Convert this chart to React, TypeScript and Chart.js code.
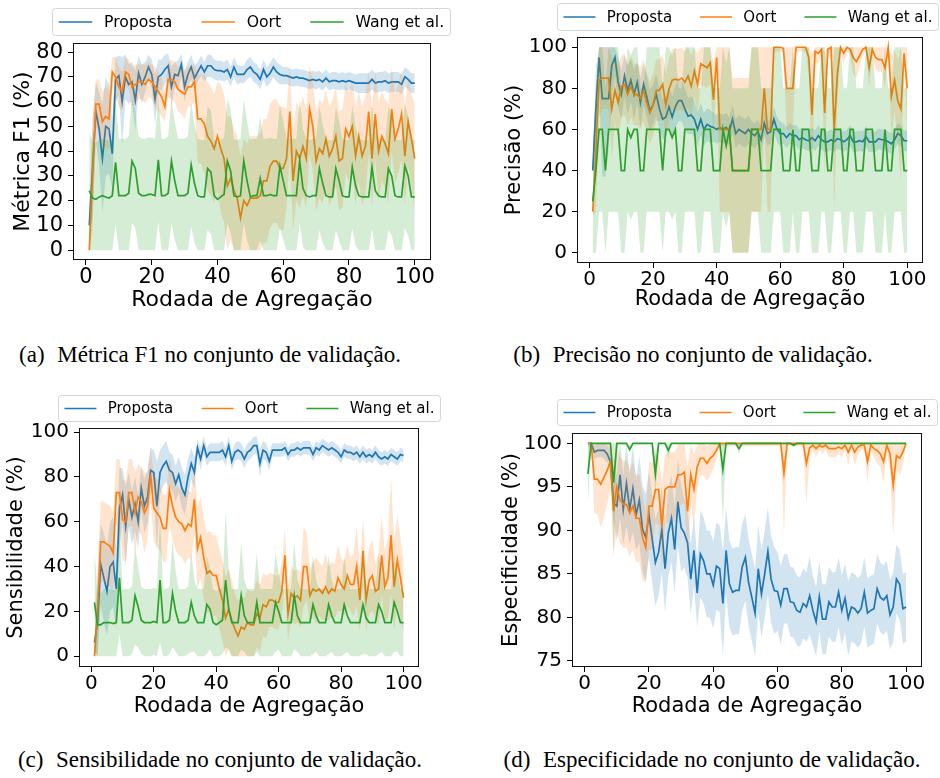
import React, { useEffect, useRef } from 'react';
import { Chart, registerables } from 'chart.js';

Chart.register(...registerables);

// ---------------- data ----------------
const rounds = [
  1, 2, 3, 4, 5, 6, 7, 8, 9, 10, 11, 12, 13, 14, 15, 16, 17, 18, 19, 20,
  21, 22, 23, 24, 25, 26, 27, 28, 29, 30, 31, 32, 33, 34, 35, 36, 37, 38, 39, 40,
  41, 42, 43, 44, 45, 46, 47, 48, 49, 50, 51, 52, 53, 54, 55, 56, 57, 58, 59, 60,
  61, 62, 63, 64, 65, 66, 67, 68, 69, 70, 71, 72, 73, 74, 75, 76, 77, 78, 79, 80,
  81, 82, 83, 84, 85, 86, 87, 88, 89, 90, 91, 92, 93, 94, 95, 96, 97, 98, 99, 100,
];
const methodNames = ['Proposta', 'Oort', 'Wang et al.'];
const methodColors = ['#1f77b4', '#ff7f0e', '#2ca02c'];
const xTickValues = [0, 20, 40, 60, 80, 100];
const f1TickValues = [0, 10, 20, 30, 40, 50, 60, 70, 80];
const pctTickValues = [0, 20, 40, 60, 80, 100];
const specTickValues = [75, 80, 85, 90, 95, 100];
const xAxisTitle = 'Rodada de Agregação';
const yAxisTitles = ['Métrica F1 (%)', 'Precisão (%)', 'Sensibilidade (%)', 'Especificidade (%)'];
const captionTags = ['(a)', '(b)', '(c)', '(d)'];
const captionTexts = [
  'Métrica F1 no conjunto de validação.',
  'Precisão no conjunto de validação.',
  'Sensibilidade no conjunto de validação.',
  'Especificidade no conjunto de validação.',
];

// (a) F1
const f1Proposta = [
  10, 33, 56, 49, 37, 50, 49, 39, 69, 70.5,
  60, 70, 67, 68, 60.5, 71.5, 67, 70, 74, 71,
  61, 70, 71, 73, 74.5, 66, 71, 70.5, 75, 66,
  71, 74, 69.5, 72, 74.5, 72, 74.5, 74.5, 73, 72.5,
  72.5, 72, 73, 70, 74, 71, 71, 71, 73, 74,
  72, 71, 69, 73, 70, 71.5, 74, 72, 71, 70.5,
  70.5, 70, 69.5, 70, 69.5, 69.5, 69, 68.5, 69, 68.5,
  69, 68, 69.5, 68, 68.5, 68.5, 68, 68.5, 68, 68.5,
  68, 67.5, 67.5, 67.5, 67.5, 67.5, 69, 67.5, 68, 68,
  68.5, 67.5, 68, 68, 68, 67, 70, 69, 67.5, 67.5,
];
const f1PropostaStd = [
  3, 20, 12, 15, 22, 20, 18, 14, 9, 8,
  18, 9, 8, 8, 12, 7, 8, 6, 5, 6,
  10, 7, 6, 6, 5, 8, 5, 6, 4.5, 6,
  5, 5, 5, 4, 4, 4, 4.5, 4.5, 4, 4,
  4, 4, 4, 4, 4, 4, 3.5, 3.5, 4, 4,
  4, 4, 4, 4, 4, 4, 4, 4, 4, 3.5,
  3.5, 3.5, 3.5, 3.5, 3.5, 3.5, 3.5, 3.5, 3.5, 3.5,
  3.5, 3.5, 3.5, 3.5, 3.5, 3.5, 3.5, 3.5, 3.5, 3.5,
  3.5, 3.5, 4, 4, 4, 4, 4, 4, 4, 4,
  4, 4, 4, 4, 4, 4, 4, 4, 4, 4,
];
const f1Oort = [
  0, 30, 59, 59, 52, 54, 53, 72, 70, 66,
  64, 72, 71, 66, 67, 68, 68, 67, 69, 68,
  66, 64, 62, 58, 69, 69, 68, 65, 64, 63,
  66, 66, 68, 53, 53, 51, 46, 44, 41, 46,
  41, 37, 26, 29, 24, 21, 13, 20, 18, 21,
  21, 21, 22, 28, 28, 34, 36, 36, 33, 33,
  37, 56, 28, 40, 37, 42, 37, 57, 50, 36,
  41, 39, 45, 38, 41, 46, 36, 37, 49, 46,
  50, 38, 46, 38, 42, 56, 37, 55, 40, 46,
  43, 39, 57, 45, 49, 55, 38, 52, 45, 37,
];
const f1OortStd = [
  2, 22, 10, 10, 12, 12, 12, 6, 8, 8,
  8, 6, 6, 8, 8, 7, 7, 8, 7, 7,
  8, 8, 8, 6, 7, 8, 8, 9, 9, 10,
  8, 8, 8, 18, 18, 20, 22, 22, 22, 22,
  26, 26, 28, 25, 25, 25, 25, 25, 25, 25,
  25, 25, 25, 25, 25, 25, 25, 25, 25, 25,
  20, 18, 20, 20, 20, 20, 20, 18, 18, 20,
  20, 20, 20, 20, 20, 20, 20, 20, 18, 18,
  18, 20, 18, 20, 20, 17, 20, 18, 20, 18,
  18, 20, 17, 18, 18, 18, 20, 18, 18, 22,
];
const f1Wang = [
  24, 21, 20.5, 21.5, 22, 21.5, 21, 22, 35.5, 22,
  22, 22, 23, 36, 33, 23, 22, 22, 22.5, 22.5,
  22, 36.5, 22, 22, 23, 36, 28, 22, 22, 22,
  23, 34.5, 27, 22, 21.5, 21.5, 33, 31.5, 22, 20.5,
  21.5, 22.5, 36, 32, 22, 21.5, 22, 36, 28, 21.5,
  22, 22, 29, 22, 22, 22.5, 22, 22, 34, 28,
  22, 22, 22, 22, 36, 25, 22, 21.5, 22, 22,
  33, 27, 22, 21.5, 21.5, 33, 28, 22, 21.5, 21.5,
  33.5, 26, 22, 21.5, 21.5, 21.5, 33.5, 24, 22, 21.5,
  21.5, 33, 30, 22, 21.5, 21.5, 34, 30, 21.5, 21.5,
];
const f1WangStd = [
  24, 23, 23, 23, 23, 23, 23, 23, 25, 23,
  23, 23, 23, 25, 24, 23, 23, 23, 23, 23,
  23, 25, 23, 23, 23, 25, 24, 23, 23, 23,
  23, 25, 24, 23, 23, 23, 25, 25, 23, 23,
  23, 23, 25, 25, 23, 23, 23, 25, 24, 23,
  23, 23, 25, 23, 23, 23, 23, 23, 25, 24,
  23, 23, 23, 23, 25, 24, 23, 23, 23, 23,
  25, 24, 23, 23, 23, 25, 24, 23, 23, 23,
  25, 24, 23, 23, 23, 23, 25, 24, 23, 23,
  23, 25, 24, 23, 23, 23, 25, 24, 23, 23,
];

// (b) Precisão
const pProposta = [
  40, 70, 95, 75, 75, 75, 91, 95, 83, 77,
  86, 79, 84, 77, 83, 73, 82, 76, 69, 72,
  77, 70, 65, 66, 71, 66, 71, 74, 74, 70,
  66.5, 67, 65, 60, 65, 60, 62.5, 61.5, 61, 60,
  61, 60, 61, 59, 65, 58, 60, 59, 58, 60,
  58, 57, 59, 55, 63, 58, 59, 65, 60, 58,
  58, 56, 58, 57, 57, 55, 56, 55, 54.5, 56,
  54.5, 57, 55, 54, 54, 55, 54, 55.5, 55, 54,
  55, 57, 54, 54, 54.5, 54, 56.5, 54, 54, 54,
  55.5, 55, 55, 54, 53, 55, 58, 57, 54.5, 54.5,
];
const pPropostaStd = [
  5, 20, 15, 38, 38, 25, 15, 8, 12, 12,
  10, 12, 10, 12, 10, 12, 10, 10, 10, 10,
  10, 10, 10, 10, 10, 10, 10, 10, 10, 10,
  9, 9, 9, 8, 8, 8, 8, 8, 7, 7,
  7, 7, 7, 7, 7, 7, 7, 7, 7, 7,
  6, 6, 6, 6, 6, 6, 6, 6, 6, 6,
  5, 5, 5, 5, 5, 5, 5, 5, 5, 5,
  5, 5, 5, 5, 5, 5, 5, 5, 5, 5,
  5, 5, 5, 5, 5, 5, 5, 5, 5, 5,
  5, 5, 5, 5, 5, 5, 5, 5, 5, 5,
];
const pOort = [
  20, 50, 84, 85, 85, 85, 70, 79, 73, 81,
  82, 77, 81, 77, 77, 75, 79, 73, 68, 72,
  79, 79, 82, 72, 79.5, 84, 84.5, 84, 85, 83,
  86, 81, 88.5, 82, 92, 91, 90, 92.5, 74.5, 95,
  60, 60, 60, 60, 40, 40, 40, 40, 40, 40,
  60, 60, 60, 60, 80, 60, 60, 100, 100, 100,
  99.5, 80, 80, 80, 100, 100, 100, 100, 95, 67,
  98, 97, 99, 68, 99, 100, 60, 87, 100, 97,
  100, 99, 95, 93, 96, 99, 100, 90, 99, 95,
  94, 94, 90, 100, 76, 84, 74, 70, 97, 80,
];
const pOortStd = [
  2, 30, 18, 15, 15, 15, 25, 15, 18, 15,
  15, 15, 15, 15, 15, 15, 15, 15, 15, 15,
  15, 15, 15, 15, 15, 15, 15, 15, 15, 15,
  15, 15, 12, 15, 10, 10, 10, 10, 18, 8,
  40, 40, 40, 40, 45, 45, 45, 45, 45, 45,
  40, 40, 40, 40, 20, 40, 40, 2, 2, 2,
  2, 20, 20, 20, 2, 2, 2, 2, 8, 30,
  5, 5, 3, 30, 3, 2, 40, 15, 2, 5,
  2, 3, 8, 8, 6, 3, 2, 10, 3, 6,
  6, 6, 10, 2, 20, 15, 20, 35, 5, 20,
];
const pWang = [
  25, 40, 60, 60, 40, 60, 60, 60, 60, 40,
  40, 60, 56, 60, 60, 40, 40, 60, 60, 60,
  60, 60, 40, 60, 60, 56, 60, 40, 40, 60,
  60, 60, 60, 40, 40, 60, 60, 60, 40, 40,
  40, 60, 52, 60, 40, 40, 40, 40, 40, 40,
  60, 60, 60, 40, 40, 40, 40, 60, 60, 60,
  40, 40, 40, 60, 40, 40, 60, 60, 60, 40,
  40, 40, 60, 60, 40, 40, 60, 60, 60, 40,
  40, 60, 60, 40, 40, 40, 60, 60, 60, 40,
  40, 40, 60, 40, 40, 60, 60, 60, 40, 40,
];
const pWangStd = [
  25, 40, 40, 40, 40, 40, 40, 40, 40, 40,
  40, 40, 40, 40, 40, 40, 40, 40, 40, 40,
  40, 40, 40, 40, 40, 40, 40, 40, 40, 40,
  40, 40, 40, 40, 40, 40, 40, 40, 40, 40,
  40, 40, 40, 40, 40, 40, 40, 40, 40, 40,
  40, 40, 40, 40, 40, 40, 40, 40, 40, 40,
  40, 40, 40, 40, 40, 40, 40, 40, 40, 40,
  40, 40, 40, 40, 40, 40, 40, 40, 40, 40,
  40, 40, 40, 40, 40, 40, 40, 40, 40, 40,
  40, 40, 40, 40, 40, 40, 40, 40, 40, 40,
];

// (c) Sensibilidade
const sProposta = [
  6, 15, 41, 35, 29, 40, 42, 30, 66, 72,
  58, 70, 62, 68, 60, 75, 67, 71, 83, 82,
  67, 82, 85, 87, 83, 82, 77, 81, 75, 72,
  80, 86, 82, 93, 88, 94, 89, 91, 91, 91,
  91, 92, 89, 94, 87, 91, 92, 91, 88, 91,
  92, 94, 94, 86, 92, 91, 87, 92, 92, 92,
  92, 93, 90, 92, 92, 93, 92, 93, 93, 93,
  90, 93, 92, 94, 93, 92, 93, 92, 91, 89,
  92, 91, 91, 90, 91, 89, 91, 89, 90, 89,
  91, 89, 88, 89, 88, 90, 89, 88, 90, 89.5,
];
const sPropostaStd = [
  3, 20, 18, 20, 20, 20, 20, 18, 18, 12,
  18, 12, 12, 12, 12, 10, 12, 12, 10, 10,
  20, 10, 9, 9, 8, 8, 8, 8, 9, 9,
  8, 7, 7, 4, 5, 4, 4, 4, 4, 4,
  4, 4, 4, 4, 4, 4, 4, 4, 4, 4,
  4, 4, 4, 6, 4, 4, 4, 3, 3, 3,
  3, 3, 3, 3, 3, 3, 3, 3, 3, 3,
  3, 3, 3, 3, 3, 3, 3, 3, 3, 3,
  3, 3, 3, 3, 3, 3, 3, 3, 3, 3,
  3, 3, 3, 3, 3, 3, 3, 3, 3, 3,
];
const sOort = [
  0, 20, 51, 51, 50, 49, 46, 73, 73, 61,
  60, 73, 73, 64, 71, 69, 64, 67, 81, 66,
  64, 62, 57, 57, 74, 67, 62, 60, 59, 56,
  59, 58, 70, 48, 53, 44, 37, 38, 36, 36,
  30, 25, 17, 21, 16, 12, 9, 13, 12, 15,
  14, 14, 19, 17, 23, 22, 25, 25, 24, 24,
  29, 45, 19, 28, 26, 27, 25, 40, 40, 27,
  30, 29, 30, 28, 31, 28, 30, 29, 35, 32,
  30, 36, 32, 32, 40, 25, 47, 25, 34, 36,
  29, 30, 45, 31, 35, 54, 31, 43, 35, 26,
];
const sOortStd = [
  2, 20, 18, 18, 18, 18, 18, 15, 15, 18,
  18, 15, 15, 18, 15, 15, 18, 15, 12, 15,
  15, 15, 15, 15, 15, 15, 15, 15, 15, 15,
  15, 15, 15, 18, 18, 18, 18, 18, 18, 18,
  18, 18, 18, 18, 18, 16, 16, 14, 14, 15,
  15, 15, 15, 15, 14, 14, 12, 12, 12, 12,
  12, 12, 12, 12, 12, 12, 12, 18, 15, 12,
  12, 15, 12, 12, 15, 12, 12, 12, 15, 12,
  12, 14, 12, 14, 18, 14, 15, 14, 15, 16,
  12, 16, 18, 16, 18, 26, 20, 20, 18, 16,
];
const sWang = [
  24, 14, 14, 15, 15, 15, 14.5, 15, 35, 15,
  15, 15, 16, 27, 22, 16, 15, 15, 15, 15.5,
  15, 34, 15, 15, 16, 28, 20, 15, 15, 15,
  16, 24, 18, 15, 15, 15, 23, 21, 15, 14,
  15, 16, 34, 21, 15, 15, 15, 27, 18, 15,
  15, 15, 24, 15, 15, 15, 15, 15, 24, 20,
  15, 15, 15, 15, 27, 18, 15, 15, 15, 15,
  23, 18, 15, 15, 15, 23, 18, 15, 15, 15,
  23, 18, 15, 15, 15, 15, 23, 17, 15, 15,
  15, 23, 20, 15, 15, 15, 24, 20, 15, 15,
];
const sWangStd = [
  23, 15, 14, 15, 15, 15, 15, 15, 25, 15,
  15, 15, 15, 22, 18, 15, 15, 15, 15, 15,
  15, 28, 15, 15, 15, 24, 18, 15, 15, 15,
  15, 22, 16, 15, 15, 15, 22, 18, 15, 15,
  15, 15, 30, 18, 15, 15, 15, 24, 16, 15,
  15, 15, 22, 15, 15, 15, 15, 15, 22, 17,
  15, 15, 15, 15, 24, 16, 15, 15, 15, 15,
  22, 16, 15, 15, 15, 22, 16, 15, 15, 15,
  22, 16, 15, 15, 15, 15, 22, 16, 15, 15,
  15, 22, 18, 15, 15, 15, 22, 18, 15, 15,
];

// (d) Especificidade
const spProposta = [
  100, 100, 99, 99.2, 99.2, 99.2, 98.8, 97.9, 93.1, 92.8,
  96.4, 92.4, 95.4, 92.4, 94.8, 91.8, 93.5, 90.1, 89.2, 91.8,
  89, 86.3, 87.5, 90.1, 85.6, 89.7, 91.4, 87.8, 93.3, 90.3,
  89.7, 88.6, 84.4, 87.7, 82.8, 87.3, 86.5, 85, 85, 83.7,
  85.9, 85.6, 81.6, 87.7, 83.9, 82.9, 83.1, 83.1, 85.8, 86.9,
  84, 82.3, 80.5, 85.6, 82.7, 85, 87.6, 84.4, 83.1, 83,
  81.4, 83.3, 83.3, 81.8, 81.7, 80.8, 80.6, 81.6, 81.2, 82.5,
  80.8, 79.5, 82.4, 79.8, 79.8, 81.8, 81.2, 81.2, 82.9, 80.8,
  82.2, 79.9, 81.2, 81, 80.5, 81, 82.9, 80.5, 80.8, 81,
  83.3, 82.3, 82, 82.5, 80.3, 81.2, 84.4, 83.8, 81, 81.2,
];
const spPropostaStd = [
  0.5, 0.5, 0.8, 0.8, 0.8, 1, 1, 1.5, 2, 4,
  5, 4, 5, 4, 5, 4, 5, 5, 5, 5,
  5, 5, 5, 5, 5, 5, 5, 5, 5, 5,
  4, 4, 4, 4, 4, 5, 5, 5, 5, 5,
  5, 5, 6, 5, 5, 5, 5, 5, 5, 5,
  5, 5, 5, 5, 5, 5, 5, 5, 5, 4.5,
  4.5, 4, 4, 4, 4, 4, 4, 4, 4, 4.5,
  4, 4, 4, 4, 4, 4, 4, 4, 4, 4,
  4, 4.3, 4, 4, 4, 4, 4, 4, 4, 4,
  4, 4, 4, 4, 4, 4, 4, 4, 4, 4,
];
const spOort = [
  100, 100, 95.9, 95.9, 95.3, 96.1, 96.9, 97.9, 92.2, 95,
  93.5, 93, 93, 92, 92.8, 91.4, 91.4, 89.2, 88, 92.8,
  92.8, 94.7, 94.7, 90.5, 94.7, 95, 95, 95, 96.4, 96.4,
  96.7, 92.2, 96.4, 94.7, 97.3, 98.3, 98.3, 97.7, 98.3, 98.6,
  99.2, 100, 100, 100, 100, 100, 100, 100, 100, 100,
  100, 100, 100, 100, 100, 100, 100, 100, 100, 100,
  100, 96.6, 100, 100, 100, 100, 100, 100, 97.7, 99.5,
  99.8, 99.4, 99.8, 99.6, 99.8, 99.4, 99.4, 99.4, 99.6, 99.4,
  99.8, 99, 99.8, 99, 99.6, 99.8, 99.8, 97.9, 99.8, 99.4,
  99.2, 98.8, 97.9, 99.8, 98.8, 95.2, 98.6, 98.3, 99, 100,
];
const spOortStd = [
  0, 0, 4, 4, 5, 4.5, 4, 3, 5, 5,
  5, 5, 5, 5, 5, 5, 5, 5, 4, 5,
  5, 4, 4, 5, 4, 4, 4, 4, 3.5, 3.5,
  3.5, 5, 3.5, 4, 2.5, 2, 2, 2, 2, 1.5,
  1, 0.3, 0.3, 0.3, 0.3, 0.3, 0.3, 0.3, 0.3, 0.3,
  0.3, 0.3, 0.3, 0.3, 0.3, 0.3, 0.3, 0.3, 0.3, 0.3,
  0.3, 7, 0.3, 0.3, 0.3, 0.3, 0.3, 0.5, 4.6, 1,
  0.5, 1, 0.5, 0.8, 0.5, 1, 1, 1, 0.8, 1,
  0.5, 1.5, 0.5, 1.5, 1, 0.5, 0.5, 2.5, 0.5, 1,
  1.5, 1.5, 2.5, 0.5, 2, 6, 1.5, 2, 1.5, 0,
];
const spWang = [
  96.5, 100, 100, 100, 100, 100, 100, 100, 95.5, 100,
  100, 100, 100, 99.3, 100, 100, 100, 100, 100, 100,
  100, 96.5, 100, 100, 100, 99.2, 100, 100, 100, 100,
  100, 100, 100, 100, 100, 100, 100, 100, 100, 100,
  100, 100, 97, 100, 100, 100, 100, 99.4, 100, 100,
  100, 100, 100, 100, 100, 100, 100, 100, 100, 100,
  100, 100, 100, 100, 99.8, 100, 100, 100, 100, 100,
  100, 100, 100, 100, 100, 100, 100, 100, 100, 100,
  100, 100, 100, 100, 100, 100, 100, 100, 100, 100,
  100, 100, 100, 100, 100, 100, 100, 100, 100, 100,
];
const spWangStd = [
  3.5, 0.1, 0.1, 0.1, 0.1, 0.1, 0.1, 0.1, 8.5, 0.1,
  0.1, 0.1, 0.1, 0.5, 0.1, 0.1, 0.1, 0.1, 0.1, 0.1,
  0.1, 2.5, 0.1, 0.1, 0.1, 1, 0.1, 0.1, 0.1, 0.1,
  0.1, 0.1, 0.1, 0.1, 0.1, 0.1, 0.1, 0.1, 0.1, 0.1,
  0.1, 0.1, 6, 0.1, 0.1, 0.1, 0.1, 0.6, 0.1, 0.1,
  0.1, 0.1, 0.1, 0.1, 0.1, 0.1, 0.1, 0.1, 0.1, 0.1,
  0.1, 0.1, 0.1, 0.1, 0.2, 0.1, 0.1, 0.1, 0.1, 0.1,
  0.1, 0.1, 0.1, 0.1, 0.1, 0.1, 0.1, 0.1, 0.1, 0.1,
  0.1, 0.1, 0.1, 0.1, 0.1, 0.1, 0.1, 0.1, 0.1, 0.1,
  0.1, 0.1, 0.1, 0.1, 0.1, 0.1, 0.1, 0.1, 0.1, 0.1,
];

// ---------------- layout ----------------
const FONT = '"DejaVu Sans", "Noto Sans", sans-serif';
const SERIF = '"Liberation Serif", "Times New Roman", serif';

type Box = { l: number; t: number; r: number; b: number };
type PanelCfg = {
  L: number; T: number; W: number; H: number;
  frame: Box; legend: Box;
  yTitleCx: number; xTitleCy: number;
  yMin: number; yMax: number; yTicks: number[];
  means: number[][]; stds: number[][];
  fs: number; yTitle: string;
  capCx: number; capCy: number; capTag: string; capText: string;
};

const panels: PanelCfg[] = [
  {
    L: 0, T: 0, W: 470, H: 330,
    frame: { l: 73, t: 43, r: 431, b: 260 }, legend: { l: 52, t: 8, r: 450, b: 35 },
    yTitleCx: 23, xTitleCy: 300, yMin: -3.99, yMax: 83.7, yTicks: f1TickValues,
    means: [f1Proposta, f1Oort, f1Wang], stds: [f1PropostaStd, f1OortStd, f1WangStd],
    fs: 1.047, yTitle: yAxisTitles[0], capCx: 210, capCy: 355, capTag: captionTags[0], capText: captionTexts[0],
  },
  {
    L: 470, T: 0, W: 470, H: 330,
    frame: { l: 577, t: 37, r: 923, b: 263 }, legend: { l: 557, t: 3, r: 938, b: 30 },
    yTitleCx: 515, xTitleCy: 300, yMin: -5, yMax: 105, yTicks: pctTickValues,
    means: [pProposta, pOort, pWang], stds: [pPropostaStd, pOortStd, pWangStd],
    fs: 1, yTitle: yAxisTitles[1], capCx: 693, capCy: 355, capTag: captionTags[1], capText: captionTexts[1],
  },
  {
    L: 0, T: 385, W: 470, H: 345,
    frame: { l: 79, t: 428, r: 419, b: 667 }, legend: { l: 58, t: 395, r: 440, b: 421 },
    yTitleCx: 17, xTitleCy: 707, yMin: -4.85, yMax: 101.85, yTicks: pctTickValues,
    means: [sProposta, sOort, sWang], stds: [sPropostaStd, sOortStd, sWangStd],
    fs: 1, yTitle: yAxisTitles[2], capCx: 220, capCy: 760, capTag: captionTags[2], capText: captionTexts[2],
  },
  {
    L: 470, T: 385, W: 470, H: 345,
    frame: { l: 572, t: 433, r: 922, b: 667 }, legend: { l: 557, t: 399, r: 937, b: 425 },
    yTitleCx: 512, xTitleCy: 707, yMin: 74.3, yMax: 101.2, yTicks: specTickValues,
    means: [spProposta, spOort, spWang], stds: [spPropostaStd, spOortStd, spWangStd],
    fs: 1, yTitle: yAxisTitles[3], capCx: 712, capCy: 760, capTag: captionTags[3], capText: captionTexts[3],
  },
];

function hexA(hex: string, a: number) {
  const n = parseInt(hex.slice(1), 16);
  return `rgba(${(n >> 16) & 255},${(n >> 8) & 255},${n & 255},${a})`;
}

const framePlugin = {
  id: 'mplFrame',
  afterDraw(chart: any) {
    const { ctx, chartArea } = chart;
    const { left, top, right, bottom } = chartArea;
    ctx.save();
    ctx.strokeStyle = '#111';
    ctx.lineWidth = 1;
    ctx.strokeRect(Math.round(left) + 0.5, Math.round(top) + 0.5, Math.round(right - left) - 1, Math.round(bottom - top) - 1);
    ctx.restore();
  },
};

function makeLegendPlugin(p: PanelCfg) {
  return {
    id: 'mplLegend',
    afterDraw(chart: any) {
      const ctx: CanvasRenderingContext2D = chart.ctx;
      const x = p.legend.l - p.L + 0.5;
      const y = p.legend.t - p.T + 0.5;
      const w = p.legend.r - p.legend.l;
      const h = p.legend.b - p.legend.t;
      const size = 15 * p.fs;
      const r = 3;
      ctx.save();
      ctx.beginPath();
      ctx.moveTo(x + r, y);
      ctx.arcTo(x + w, y, x + w, y + h, r);
      ctx.arcTo(x + w, y + h, x, y + h, r);
      ctx.arcTo(x, y + h, x, y, r);
      ctx.arcTo(x, y, x + w, y, r);
      ctx.closePath();
      ctx.fillStyle = 'rgba(255,255,255,0.8)';
      ctx.fill();
      ctx.strokeStyle = 'rgba(204,204,204,0.8)';
      ctx.lineWidth = 1;
      ctx.stroke();
      ctx.font = `${size}px ${FONT}`;
      const handle = size * 2.13;
      const gapT = size * 0.75;
      const pad = size * 0.4;
      const widths = methodNames.map((l) => handle + gapT + ctx.measureText(l).width);
      const total = widths.reduce((a, b) => a + b, 0);
      const sep = (w - 2 * pad - total) / (methodNames.length - 1);
      let cx = x + pad;
      const cy = y + h / 2;
      ctx.textBaseline = 'middle';
      ctx.textAlign = 'left';
      methodNames.forEach((l, i) => {
        ctx.strokeStyle = methodColors[i];
        ctx.lineWidth = 1.6;
        ctx.beginPath();
        ctx.moveTo(cx, cy);
        ctx.lineTo(cx + handle, cy);
        ctx.stroke();
        ctx.fillStyle = '#000';
        ctx.fillText(l, cx + handle + gapT, cy + 1);
        cx += widths[i] + sep;
      });
      ctx.restore();
    },
  };
}

function buildConfig(p: PanelCfg): any {
  const datasets: any[] = [];
  const lineOrders = [5, 3, 1];
  const bandOrders = [4, 2, 0];
  p.means.forEach((m, i) => {
    const s = p.stds[i];
    const c = methodColors[i];
    const lowIdx = datasets.length;
    datasets.push({
      label: methodNames[i] + ' lo',
      data: rounds.map((r, k) => ({ x: r, y: Math.max(0, m[k] - s[k]) })),
      borderWidth: 0, borderColor: 'rgba(0,0,0,0)', pointRadius: 0, fill: false, order: bandOrders[i],
    });
    datasets.push({
      label: methodNames[i] + ' hi',
      data: rounds.map((r, k) => ({ x: r, y: Math.min(100, m[k] + s[k]) })),
      borderWidth: 0, borderColor: 'rgba(0,0,0,0)', pointRadius: 0,
      fill: lowIdx, backgroundColor: hexA(c, 0.2), order: bandOrders[i],
    });
    datasets.push({
      label: methodNames[i],
      data: rounds.map((r, k) => ({ x: r, y: m[k] })),
      borderColor: c, borderWidth: 1.7, pointRadius: 0, fill: false, order: lineOrders[i],
    });
  });

  const padT = p.frame.t - p.T;
  const padR = p.L + p.W - p.frame.r;
  const yW = p.frame.l - p.L;
  const xH = p.T + p.H - p.frame.b;
  const tickSize = 20 * p.fs;
  const titleSize = 21 * p.fs;
  const titleLH = titleSize * 1.2;

  return {
    type: 'line',
    data: { datasets },
    options: {
      animation: false,
      responsive: false,
      maintainAspectRatio: false,
      events: [],
      layout: { padding: { left: 0, top: padT, right: padR, bottom: 0 } },
      elements: { line: { tension: 0 }, point: { radius: 0 } },
      plugins: { legend: { display: false }, tooltip: { enabled: false } },
      scales: {
        x: {
          type: 'linear', min: -3.95, max: 104.95,
          afterBuildTicks: (sc: any) => { sc.ticks = xTickValues.map((v) => ({ value: v })); },
          afterFit: (sc: any) => { sc.height = xH; },
          grid: { display: true, drawOnChartArea: false, drawTicks: true, tickLength: 5, tickColor: '#000', color: '#000', tickWidth: 1 },
          border: { display: false },
          ticks: { color: '#000', font: { family: FONT, size: tickSize, lineHeight: 1 }, padding: 2, maxRotation: 0, autoSkip: false },
          title: {
            display: true, text: xAxisTitle, color: '#000',
            font: { family: FONT, size: titleSize, lineHeight: 1.2 },
            padding: { top: 0, bottom: p.T + p.H - p.xTitleCy - titleLH / 2 },
          },
        },
        y: {
          type: 'linear', min: p.yMin, max: p.yMax,
          afterBuildTicks: (sc: any) => { sc.ticks = p.yTicks.map((v) => ({ value: v })); },
          afterFit: (sc: any) => { sc.width = yW; },
          grid: { display: true, drawOnChartArea: false, drawTicks: true, tickLength: 5, tickColor: '#000', color: '#000', tickWidth: 1 },
          border: { display: false },
          ticks: { color: '#000', font: { family: FONT, size: tickSize, lineHeight: 1 }, padding: 5, autoSkip: false },
          title: {
            display: true, text: p.yTitle, color: '#000',
            font: { family: FONT, size: titleSize, lineHeight: 1.2 },
            padding: { top: p.yTitleCx - p.L - titleLH / 2, bottom: 0 },
          },
        },
      },
    },
    plugins: [framePlugin, makeLegendPlugin(p)],
  };
}

function PanelChart({ p }: { p: PanelCfg }) {
  const ref = useRef<HTMLCanvasElement>(null);
  useEffect(() => {
    if (!ref.current) return;
    const chart = new Chart(ref.current, buildConfig(p));
    return () => chart.destroy();
  }, [p]);
  return (
    <canvas
      ref={ref}
      width={p.W}
      height={p.H}
      style={{ position: 'absolute', left: p.L, top: p.T, width: p.W, height: p.H }}
    />
  );
}

export default function App() {
  return (
    <div style={{ position: 'absolute', left: 0, top: 0, width: 940, height: 778, background: '#fff', overflow: 'hidden' }}>
      {panels.map((p, i) => (
        <PanelChart key={i} p={p} />
      ))}
      {panels.map((p, i) => (
        <div
          key={'c' + i}
          style={{
            position: 'absolute', left: p.capCx - 300, width: 600, top: p.capCy - 15, height: 30,
            textAlign: 'center', fontFamily: SERIF, fontSize: 23, lineHeight: '30px', color: '#000', whiteSpace: 'pre',
          }}
        >
          <span style={{ marginRight: '0.3em' }}>{p.capTag}</span>
          {' ' + p.capText}
        </div>
      ))}
    </div>
  );
}
